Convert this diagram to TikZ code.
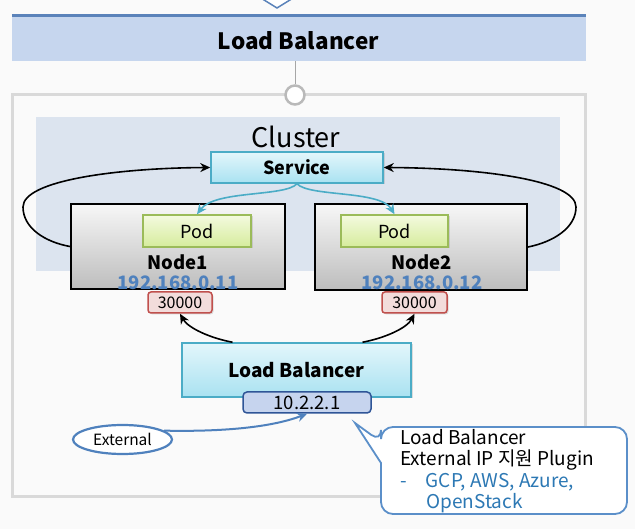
\documentclass[tikz,border=0pt]{standalone}
\usepackage{fontspec}
\setmainfont{Noto Sans CJK KR}
\usetikzlibrary{arrows.meta,shapes.geometric,shadows}
\definecolor{bgc}{HTML}{FAFAFA}
\definecolor{barfill}{HTML}{C6D6EE}
\definecolor{barline}{HTML}{5B83BA}
\definecolor{outerline}{HTML}{D9D9D9}
\definecolor{clusterfill}{HTML}{DCE4EF}
\definecolor{cyanline}{HTML}{4BACC6}
\definecolor{cyantop}{HTML}{E3F6FB}
\definecolor{cyanbot}{HTML}{A9E2F1}
\definecolor{podline}{HTML}{9BBB59}
\definecolor{podtop}{HTML}{F4FADF}
\definecolor{podbot}{HTML}{D5EC9C}
\definecolor{nodetop}{HTML}{F7F7F7}
\definecolor{nodebot}{HTML}{BDBDBD}
\definecolor{portfill}{HTML}{F2DCDB}
\definecolor{portline}{HTML}{C0504D}
\definecolor{ipfill}{HTML}{C6D4EE}
\definecolor{ipline}{HTML}{2F5597}
\definecolor{ipblue}{HTML}{4F81BD}
\definecolor{extline}{HTML}{4F81BD}
\definecolor{listblue}{HTML}{2C78B4}
\definecolor{calloutline}{HTML}{5B8FC9}
\tikzset{
  fs/.style={font=\fontsize{#1}{#1}\selectfont},
  bfs/.style={font=\fontsize{#1}{#1}\selectfont\bfseries},
  softshadow/.style={drop shadow={opacity=0.25,shadow xshift=1.5pt,shadow yshift=-1.5pt}},
  cyanbox/.style={draw=cyanline, line width=1.5pt, top color=cyantop, bottom color=cyanbot, inner sep=0pt, softshadow},
  podbox/.style={draw=podline, line width=1.5pt, top color=podtop, bottom color=podbot, inner sep=0pt, softshadow, fs=18},
  kbox/.style={draw=black, line width=2pt, top color=nodetop, bottom color=nodebot, inner sep=0pt},
  portbox/.style={draw=portline, line width=1.5pt, fill=portfill, rounded corners=3pt, inner sep=0pt, fs=16, softshadow},
  iplabel/.style={text=ipblue, bfs=18.5, inner sep=0pt},
  blackarrow/.style={draw=black, line width=1.6pt, -{Stealth[length=10pt,width=9pt]}},
  cyanarrow/.style={draw=cyanline, line width=1.6pt, -{Stealth[length=10pt,width=9pt]}},
  bluearrow/.style={draw=extline, line width=2pt, -{Stealth[length=10pt,width=9pt]}},
}
\begin{document}
\begin{tikzpicture}[x=1pt,y=-1pt]
\useasboundingbox (0,0) rectangle (635,529);
\fill[bgc] (0,0) rectangle (635,529);
% top chevron
\draw[draw=barline, fill=white, line width=1.5pt] (256,-5) -- (277,8) -- (298,-5);
% top bar
\node[fill=barfill, minimum width=574pt, minimum height=45pt, inner sep=0pt] (topbar) at (299,38.5) {};
\node[bfs=22.5, inner sep=0pt] (toplabel) at (298.5,40.5) {Load Balancer};
\draw[barline, line width=3pt] (topbar.north west) -- (topbar.north east);
% outer box
\draw[outerline, line width=3pt, fill=bgc] (12,95) rectangle (585,496);
\node[circle, draw=gray!55, line width=2.5pt, fill=white, minimum size=19pt, inner sep=0pt] (conn) at (295,95) {};
\draw[gray!70, line width=0.8pt] (topbar.south -| conn) -- (conn.north);
% cluster
\fill[clusterfill] (36,117) rectangle (560,271);
\node[fs=27, inner sep=0pt] (clusterlabel) at (296,137) {Cluster};
% service
\node[cyanbox, minimum width=172pt, minimum height=31pt, bfs=18] (service) at (297,167.5) {Service};
% nodes
\node[kbox, minimum width=214pt, minimum height=85pt] (node1) at (178,246.5) {};
\node[kbox, minimum width=212pt, minimum height=86pt] (node2) at (421,247) {};
\node[podbox, minimum width=108pt, minimum height=32pt] (pod1) at (197,231) {Pod};
\node[podbox, minimum width=107pt, minimum height=32pt] (pod2) at (394.5,231) {Pod};
\node[bfs=18.5, inner sep=0pt] (n1label) at (178,262) {Node1};
\node[bfs=18.5, inner sep=0pt] (n2label) at (422,262) {Node2};
\node[iplabel] (ip1) at (178,283) {192.168.0.11};
\node[iplabel] (ip2) at (422,283) {192.168.0.12};
% ports
\node[portbox, minimum width=64pt, minimum height=21pt] (port1) at (180,302.5) {30000};
\node[portbox, minimum width=65pt, minimum height=21pt] (port2) at (414.5,302.5) {30000};
% lower load balancer
\node[cyanbox, minimum width=229pt, minimum height=54pt, bfs=19] (lb) at (296.5,370) {Load Balancer};
\node[draw=ipline, line width=1.5pt, fill=ipfill, rounded corners=4pt, minimum width=128pt, minimum height=21pt, inner sep=0pt, fs=18.5] (ip) at (307,402.5) {10.2.2.1};
% external
\node[ellipse, draw=extline, line width=2.2pt, fill=white, minimum width=99pt, minimum height=29pt, inner sep=0pt, fs=15.5] (ext) at (122.5,439.5) {External};
% loops
\coordinate (lpt) at (23,207);
\coordinate (rpt) at (576,207);
\draw[blackarrow] (node1.west) .. controls (45,242) and (23,228) .. (lpt) .. controls (23,180) and (120,168) .. (service.west);
\draw[blackarrow] (node2.east) .. controls (553,242) and (576,228) .. (rpt) .. controls (576,180) and (480,168) .. (service.east);
% cyan arrows
\draw[cyanarrow] (service.south) .. controls (285,197) and (215,190) .. (pod1.north);
\draw[cyanarrow] (service.south) .. controls (309,197) and (380,190) .. (pod2.north);
% lb arrows
\draw[blackarrow] ([xshift=-64pt]lb.north) .. controls (210,338) and (188,328) .. (port1.south);
\draw[blackarrow] ([xshift=66pt]lb.north) .. controls (385,338) and (407,328) .. (port2.south);
% external arrow
\draw[bluearrow] (ext.12) .. controls (230,432) and (275,426) .. (ip.south);
% callout
\coordinate (ctip) at (355,423);
\draw[draw=calloutline, line width=1.8pt, fill=white] (381,442) -- (ctip) -- (381,463) [rounded corners=12pt] -- (381,514) -- (627,514) -- (627,427) -- (381,427) -- cycle;
\node[anchor=north west, align=left, inner sep=0pt, font=\fontsize{19}{21.5}\selectfont] (callouttext) at (400,429) {Load Balancer\\External IP 지원 Plugin\\\textcolor{listblue}{-\hspace{19pt}GCP, AWS, Azure,}\\\hspace{26pt}\textcolor{listblue}{OpenStack}};
\end{tikzpicture}
\end{document}
